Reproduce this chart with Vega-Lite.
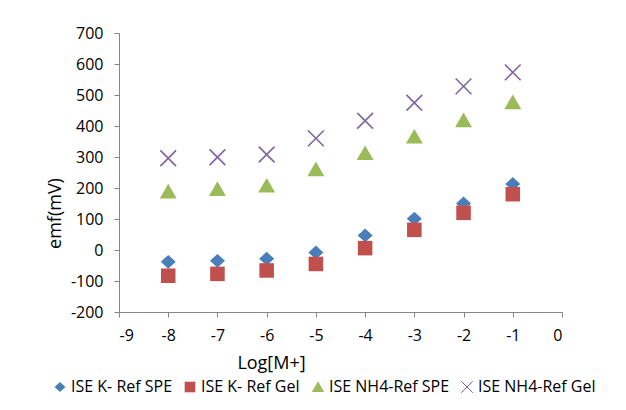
{
  "$schema": "https://vega.github.io/schema/vega-lite/v6.json",
  "width": 443,
  "height": 279,
  "autosize": {"type": "none"},
  "padding": {"left": 119, "top": 33, "right": 64, "bottom": 98},
  "background": "white",
  "config": {
    "view": {"stroke": null},
    "font": "Open Sans",
    "axis": {"grid": false, "domainColor": "#868686", "tickColor": "#868686", "labelColor": "#000000", "titleColor": "#000000", "labelFontSize": 16, "titleFontSize": 18, "titleFontWeight": "normal", "tickSize": 5, "labelPadding": 10, "labelOverlap": false}
  },
  "data": {"values": [
    {"x": -8, "y": -38, "s": "ISE K- Ref SPE"},
    {"x": -7, "y": -35, "s": "ISE K- Ref SPE"},
    {"x": -6, "y": -28, "s": "ISE K- Ref SPE"},
    {"x": -5, "y": -8, "s": "ISE K- Ref SPE"},
    {"x": -4, "y": 47, "s": "ISE K- Ref SPE"},
    {"x": -3, "y": 101, "s": "ISE K- Ref SPE"},
    {"x": -2, "y": 150, "s": "ISE K- Ref SPE"},
    {"x": -1, "y": 213, "s": "ISE K- Ref SPE"},
    {"x": -8, "y": -83, "s": "ISE K- Ref Gel"},
    {"x": -7, "y": -77, "s": "ISE K- Ref Gel"},
    {"x": -6, "y": -66, "s": "ISE K- Ref Gel"},
    {"x": -5, "y": -45, "s": "ISE K- Ref Gel"},
    {"x": -4, "y": 6, "s": "ISE K- Ref Gel"},
    {"x": -3, "y": 65, "s": "ISE K- Ref Gel"},
    {"x": -2, "y": 120, "s": "ISE K- Ref Gel"},
    {"x": -1, "y": 180, "s": "ISE K- Ref Gel"},
    {"x": -8, "y": 188, "s": "ISE NH4-Ref SPE"},
    {"x": -7, "y": 196, "s": "ISE NH4-Ref SPE"},
    {"x": -6, "y": 207, "s": "ISE NH4-Ref SPE"},
    {"x": -5, "y": 260, "s": "ISE NH4-Ref SPE"},
    {"x": -4, "y": 312, "s": "ISE NH4-Ref SPE"},
    {"x": -3, "y": 365, "s": "ISE NH4-Ref SPE"},
    {"x": -2, "y": 418, "s": "ISE NH4-Ref SPE"},
    {"x": -1, "y": 476, "s": "ISE NH4-Ref SPE"},
    {"x": -8, "y": 296, "s": "ISE NH4-Ref Gel"},
    {"x": -7, "y": 299, "s": "ISE NH4-Ref Gel"},
    {"x": -6, "y": 308, "s": "ISE NH4-Ref Gel"},
    {"x": -5, "y": 360, "s": "ISE NH4-Ref Gel"},
    {"x": -4, "y": 417, "s": "ISE NH4-Ref Gel"},
    {"x": -3, "y": 475, "s": "ISE NH4-Ref Gel"},
    {"x": -2, "y": 528, "s": "ISE NH4-Ref Gel"},
    {"x": -1, "y": 573, "s": "ISE NH4-Ref Gel"}
  ]},
  "mark": {"type": "point", "filled": true, "size": 225, "strokeWidth": 1.6, "opacity": 1},
  "encoding": {
    "x": {"field": "x", "type": "quantitative", "scale": {"domain": [-9, 0], "nice": false, "zero": false}, "axis": {"title": "Log[M+]", "values": [-9,-8,-7,-6,-5,-4,-3,-2,-1,0], "labelExpr": "toString(datum.value)", "titleX": 152, "titleY": 56, "titleAlign": "center", "titleBaseline": "alphabetic"}},
    "y": {"field": "y", "type": "quantitative", "scale": {"domain": [-200, 700], "nice": false, "zero": false}, "axis": {"title": "emf(mV)", "values": [-200,-100,0,100,200,300,400,500,600,700], "labelExpr": "toString(datum.value)", "labelPadding": 11, "titleX": -64, "titleY": 180, "titleAngle": -90, "titleAlign": "center", "titleBaseline": "middle"}},
    "fill": {"field": "s", "type": "nominal", "scale": {"domain": ["ISE K- Ref SPE", "ISE K- Ref Gel", "ISE NH4-Ref SPE", "ISE NH4-Ref Gel"], "range": ["#4A7EBB", "#C0504D", "#9BBB59", "transparent"]}, "legend": {"title": null, "orient": "none", "direction": "horizontal", "legendX": -67, "legendY": 346, "labelFontSize": 16, "labelColor": "#000000", "symbolSize": 120, "columnPadding": 9, "labelOffset": 3, "symbolStrokeWidth": 1, "symbolOffset": 0}},
    "stroke": {"field": "s", "type": "nominal", "scale": {"domain": ["ISE K- Ref SPE", "ISE K- Ref Gel", "ISE NH4-Ref SPE", "ISE NH4-Ref Gel"], "range": ["transparent", "transparent", "transparent", "#8064A2"]}},
    "shape": {"field": "s", "type": "nominal", "scale": {"domain": ["ISE K- Ref SPE", "ISE K- Ref Gel", "ISE NH4-Ref SPE", "ISE NH4-Ref Gel"], "range": ["M-1,0L0,-0.92L1,0L0,0.92Z", "M-0.97,-0.97H0.97V0.97H-0.97Z", "M0,-1.05L1.13,0.9L-1.13,0.9Z", "M-1.05,-1.05L1.05,1.05M-1.05,1.05L1.05,-1.05"]}}
  }
}
